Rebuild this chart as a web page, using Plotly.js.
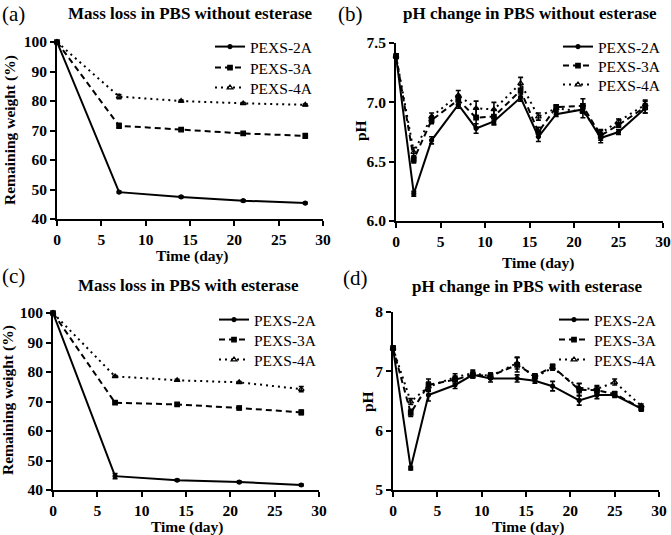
<!DOCTYPE html>
<html>
<head>
<meta charset="utf-8">
<script src="https://cdn.plot.ly/plotly-3.0.1.min.js"></script>
<style>html,body{margin:0;padding:0;background:#fff;}#chart{width:671px;height:535px;}</style>
</head>
<body>
<div id="chart"></div>
<script>
// ---- data ----
const seriesNames = ['PEXS-2A', 'PEXS-3A', 'PEXS-4A'];
const massDays = [0, 7, 14, 21, 28];
const phDays = [0, 2, 4, 7, 9, 11, 14, 16, 18, 21, 23, 25, 28];

// (a) mass loss without esterase (%)
const massNoEst_2A = [100, 49.1, 47.5, 46.2, 45.4];
const massNoEst_3A = [100, 71.6, 70.3, 69.0, 68.2];
const massNoEst_4A = [100, 81.5, 80.0, 79.2, 78.7];
const massNoEstErr_2A = [0.3, 0.3, 0.3, 0.3, 0.3];
const massNoEstErr_3A = [0.3, 0.8, 0.3, 0.3, 0.8];
const massNoEstErr_4A = [0.3, 0.7, 0.3, 0.3, 0.3];

// (b) pH without esterase
const phNoEst_2A = [7.39, 6.23, 6.68, 6.98, 6.78, 6.84, 7.04, 6.71, 6.90, 6.94, 6.70, 6.75, 6.95];
const phNoEst_3A = [7.39, 6.52, 6.85, 7.02, 6.87, 6.88, 7.10, 6.75, 6.96, 6.97, 6.72, 6.81, 6.96];
const phNoEst_4A = [7.39, 6.58, 6.88, 7.06, 6.95, 6.94, 7.16, 6.88, 6.95, 6.92, 6.74, 6.84, 6.98];
const phNoEstErr_2A = [0.02, 0.02, 0.03, 0.03, 0.04, 0.03, 0.03, 0.04, 0.02, 0.03, 0.04, 0.02, 0.04];
const phNoEstErr_3A = [0.02, 0.03, 0.03, 0.04, 0.08, 0.06, 0.05, 0.04, 0.02, 0.06, 0.04, 0.02, 0.05];
const phNoEstErr_4A = [0.02, 0.04, 0.03, 0.04, 0.06, 0.06, 0.05, 0.03, 0.02, 0.05, 0.03, 0.02, 0.04];

// (c) mass loss with esterase (%)
const massEst_2A = [100, 44.7, 43.3, 42.7, 41.7];
const massEst_3A = [100, 69.6, 69.0, 67.8, 66.3];
const massEst_4A = [100, 78.5, 77.2, 76.5, 74.2];
const massEstErr_2A = [0.3, 0.9, 0.3, 0.3, 0.3];
const massEstErr_3A = [0.3, 0.4, 0.4, 0.6, 0.8];
const massEstErr_4A = [0.3, 0.3, 0.3, 0.3, 0.9];

// (d) pH with esterase
const phEst_2A = [7.39, 5.37, 6.60, 6.77, 6.94, 6.88, 6.88, 6.84, 6.75, 6.51, 6.60, 6.60, 6.37];
const phEst_3A = [7.39, 6.30, 6.77, 6.86, 6.94, 6.92, 7.11, 6.92, 7.08, 6.69, 6.68, 6.62, 6.38];
const phEst_4A = [7.39, 6.49, 6.74, 6.90, 6.97, 6.92, 7.14, 6.90, 7.06, 6.72, 6.70, 6.82, 6.42];
const phEstErr_2A = [0.03, 0.03, 0.10, 0.06, 0.05, 0.06, 0.06, 0.04, 0.08, 0.08, 0.06, 0.04, 0.04];
const phEstErr_3A = [0.03, 0.06, 0.10, 0.06, 0.05, 0.05, 0.12, 0.04, 0.04, 0.10, 0.06, 0.04, 0.03];
const phEstErr_4A = [0.03, 0.05, 0.08, 0.06, 0.05, 0.05, 0.10, 0.04, 0.04, 0.08, 0.06, 0.05, 0.03];

// ---- styles ----
const SERIF = 'Liberation Serif, Times New Roman, serif';
const lineStyles = [
  {dash: 'solid', symbol: 'circle', size: 4},
  {dash: '6px,4px', symbol: 'square', size: 4.5},
  {dash: '2px,4px', symbol: 'triangle-up-open', size: 5}
];

let legendCount = 0;
function makeTraces(x, ys, errs, xa, ya) {
  return ys.map((y, i) => {
    legendCount += 1;
    return {
      type: 'scatter', mode: 'lines+markers',
      x: x, y: y, name: seriesNames[i],
      xaxis: xa, yaxis: ya, legend: legendCount === 1 ? 'legend' : 'legend' + legendCount,
      cliponaxis: false,
      line: {color: '#000', width: 2, dash: lineStyles[i].dash},
      marker: {color: '#000', symbol: lineStyles[i].symbol, size: lineStyles[i].size,
               line: {color: '#000', width: 1.2}},
      error_y: {type: 'data', array: errs[i], color: '#000', thickness: 1.6, width: 2.5}
    };
  });
}

const traces = [].concat(
  makeTraces(massDays, [massNoEst_2A, massNoEst_3A, massNoEst_4A],
             [massNoEstErr_2A, massNoEstErr_3A, massNoEstErr_4A], 'x', 'y'),
  makeTraces(phDays, [phNoEst_2A, phNoEst_3A, phNoEst_4A],
             [phNoEstErr_2A, phNoEstErr_3A, phNoEstErr_4A], 'x2', 'y2'),
  makeTraces(massDays, [massEst_2A, massEst_3A, massEst_4A],
             [massEstErr_2A, massEstErr_3A, massEstErr_4A], 'x3', 'y3'),
  makeTraces(phDays, [phEst_2A, phEst_3A, phEst_4A],
             [phEstErr_2A, phEstErr_3A, phEstErr_4A], 'x4', 'y4')
);

const W = 671, H = 535;
const px = v => v / W;
const py = v => 1 - v / H;

const tickFont = {family: SERIF, size: 15.5, color: '#000', weight: 'bold'};
const titleFont = {family: SERIF, size: 15.5, color: '#000', weight: 'bold'};

function xAxis(left, right, anchor) {
  return {
    domain: [px(left), px(right)], anchor: anchor, range: [0, 30], dtick: 5, tick0: 0,
    showline: true, linecolor: '#000', linewidth: 2, ticks: 'outside', ticklen: 5,
    tickwidth: 2, tickcolor: '#000', tickfont: tickFont,
    showgrid: false, zeroline: false, fixedrange: true
  };
}
function yAxis(top, bottom, anchor, range, dtick, fmt) {
  return {
    domain: [py(bottom), py(top)], anchor: anchor, range: range, dtick: dtick, tick0: range[0],
    tickformat: fmt, showline: true, linecolor: '#000', linewidth: 2, ticks: 'outside',
    ticklen: 5, tickwidth: 2, tickcolor: '#000', tickfont: tickFont,
    showgrid: false, zeroline: false, fixedrange: true
  };
}
// one legend box per entry, placed where the reference draws each row
function legendAt(textLeft, rowCenter) {
  return {x: px(textLeft - 44), y: py(rowCenter - 15), xanchor: 'left', yanchor: 'top',
          bgcolor: 'rgba(0,0,0,0)', borderwidth: 0,
          font: {family: SERIF, size: 15.5, color: '#000'}, itemwidth: 30};
}
const legendRows = [
  [254, [45, 66, 86]],
  [602, [45, 64, 83]],
  [258, [318, 338, 358]],
  [598, [318, 338, 358]]
];

const layout = {
  width: W, height: H, margin: {l: 0, r: 0, t: 0, b: 0},
  paper_bgcolor: '#fff', plot_bgcolor: '#fff', showlegend: true,
  xaxis: xAxis(57, 323, 'y'),
  yaxis: yAxis(42, 219, 'x', [40, 100], 10, 'd'),
  xaxis2: xAxis(396, 663, 'y2'),
  yaxis2: yAxis(43, 221, 'x2', [6.0, 7.5], 0.5, '.1f'),
  xaxis3: xAxis(53, 319, 'y3'),
  yaxis3: yAxis(313, 490, 'x3', [40, 100], 10, 'd'),
  xaxis4: xAxis(393, 659, 'y4'),
  yaxis4: yAxis(312, 490, 'x4', [5, 8], 1, 'd')
};
let li = 0;
legendRows.forEach(([tx, rows]) => rows.forEach(r => {
  li += 1;
  layout[li === 1 ? 'legend' : 'legend' + li] = legendAt(tx, r);
}));

const panelLabels = [
  {text: '(a)', x: 0, y: 14}, {text: '(b)', x: 336, y: 14},
  {text: '(c)', x: 0, y: 276}, {text: '(d)', x: 341, y: 278}
];
const panelTitles = [
  {text: 'Mass loss in PBS without esterase', x: 190, y: 14},
  {text: 'pH change in PBS without esterase', x: 530, y: 14},
  {text: 'Mass loss in PBS with esterase', x: 188, y: 285},
  {text: 'pH change in PBS with esterase', x: 527, y: 286}
];
const axisTitles = [
  {text: 'Time (day)', x: 192, y: 256, a: 0},
  {text: 'Remaining weight (%)', x: 10, y: 130, a: -90},
  {text: 'Time (day)', x: 538, y: 263, a: 0},
  {text: 'pH', x: 360, y: 131, a: -90},
  {text: 'Time (day)', x: 187, y: 526.5, a: 0},
  {text: 'Remaining weight (%)', x: 8, y: 400, a: -90},
  {text: 'Time (day)', x: 528, y: 526.5, a: 0},
  {text: 'pH', x: 367, y: 402, a: -90}
];
const base = {xref: 'paper', yref: 'paper', showarrow: false, yanchor: 'middle'};
layout.annotations = [].concat(
  panelLabels.map(a => Object.assign({}, base, {text: a.text, x: px(a.x), y: py(a.y),
    xanchor: 'left', font: {family: SERIF, size: 21, color: '#000'}})),
  panelTitles.map(a => Object.assign({}, base, {text: a.text, x: px(a.x), y: py(a.y),
    xanchor: 'center', font: {family: SERIF, size: 17, color: '#000', weight: 'bold'}})),
  axisTitles.map(a => Object.assign({}, base, {text: a.text, x: px(a.x), y: py(a.y),
    xanchor: 'center', textangle: a.a, font: titleFont}))
);

Plotly.newPlot('chart', traces, layout, {staticPlot: true, displayModeBar: false});
</script>
</body>
</html>
